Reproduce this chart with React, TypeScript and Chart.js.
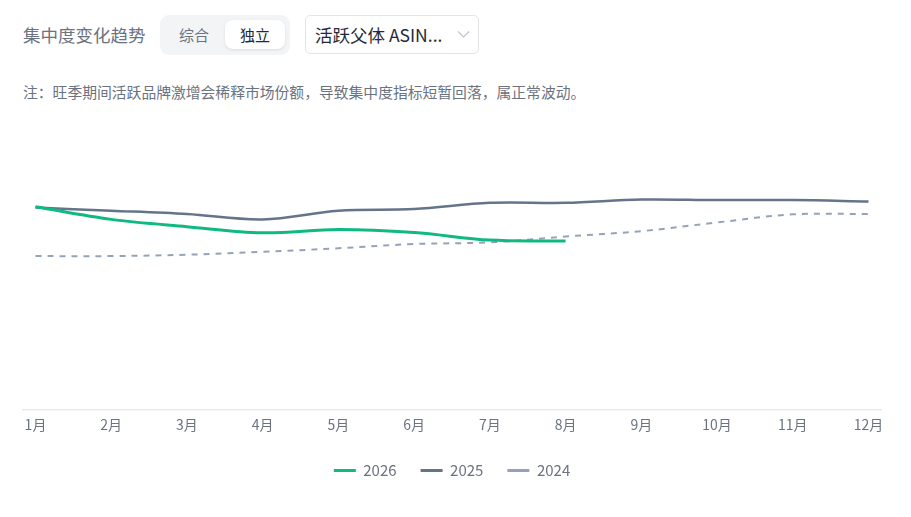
import React, { useEffect, useRef } from "react";
import { Chart, registerables } from "chart.js";

Chart.register(...registerables);

const months = ["1月", "2月", "3月", "4月", "5月", "6月", "7月", "8月", "9月", "10月", "11月", "12月"];
const series2026 = [72.6, 68.1, 65.5, 63.3, 64.5, 63.4, 60.7, 60.4];
const series2025 = [72.3, 71.2, 70.0, 68.1, 71.2, 71.8, 74.0, 74.0, 75.2, 75.0, 75.0, 74.5];
const series2024 = [55.0, 55.0, 55.5, 56.5, 57.8, 59.3, 59.9, 62.0, 63.9, 67.0, 69.9, 70.0];
const seriesNames = ["2026", "2025", "2024"];
const seriesColors = ["#10b981", "#64748b", "#94a3b8"];

const FONT = '"Noto Sans CJK SC", "Noto Sans", sans-serif';

export default function App() {
  const canvasRef = useRef<HTMLCanvasElement | null>(null);

  useEffect(() => {
    if (!canvasRef.current) return;
    const toXY = (arr: number[]) => arr.map((v, i) => ({ x: i, y: v }));
    const chart = new Chart(canvasRef.current, {
      type: "line",
      data: {
        datasets: [
          {
            label: seriesNames[0],
            data: toXY(series2026),
            borderColor: seriesColors[0],
            backgroundColor: seriesColors[0],
            borderWidth: 3,
            pointRadius: 0,
            tension: 0.35,
          },
          {
            label: seriesNames[1],
            data: toXY(series2025),
            borderColor: seriesColors[1],
            backgroundColor: seriesColors[1],
            borderWidth: 2.5,
            pointRadius: 0,
            tension: 0.35,
          },
          {
            label: seriesNames[2],
            data: toXY(series2024),
            borderColor: seriesColors[2],
            backgroundColor: seriesColors[2],
            borderWidth: 2,
            borderDash: [6, 6],
            pointRadius: 0,
            tension: 0.35,
          },
        ],
      },
      options: {
        animation: false,
        responsive: true,
        maintainAspectRatio: false,
        layout: { padding: { left: 23, right: 30, top: 20, bottom: 0 } },
        plugins: {
          tooltip: { enabled: false },
          legend: {
            position: "bottom",
            labels: {
              boxWidth: 22,
              boxHeight: 3,
              padding: 24,
              color: "#6b7280",
              font: { family: FONT, size: 15 },
              generateLabels: (c: any) =>
                c.data.datasets.map((d: any, i: number) => ({
                  text: d.label,
                  fillStyle: d.borderColor,
                  strokeStyle: d.borderColor,
                  lineWidth: 0,
                  lineDash: [],
                  hidden: false,
                  datasetIndex: i,
                  fontColor: "#6b7280",
                })),
            },
          },
        },
        scales: {
          x: {
            type: "linear",
            min: -0.165,
            max: 11.165,
            afterBuildTicks: (scale: any) => {
              scale.ticks = months.map((_, i) => ({ value: i }));
            },
            ticks: {
              callback: (v: any) => months[v as number],
              color: "#6b7280",
              font: { family: FONT, size: 14 },
              padding: 6,
              autoSkip: false,
              maxRotation: 0,
            },
            grid: { display: false, drawTicks: false },
            border: { display: true, color: "#e8eaee", width: 1.5 },
          },
          y: {
            display: false,
            min: 0,
            max: 100,
          },
        },
      },
    });
    return () => chart.destroy();
  }, []);

  return (
    <div
      style={{
        position: "absolute",
        left: 0,
        top: 0,
        width: 911,
        height: 517,
        background: "#ffffff",
        fontFamily: FONT,
        overflow: "hidden",
      }}
    >
      <div
        style={{
          position: "absolute",
          left: 23,
          top: 22,
          fontSize: 17.5,
          lineHeight: "26px",
          color: "#6b7280",
          whiteSpace: "nowrap",
        }}
      >
        集中度变化趋势
      </div>
      <div
        style={{
          position: "absolute",
          left: 160,
          top: 15,
          width: 130,
          height: 40,
          background: "#f3f4f6",
          borderRadius: 9,
        }}
      >
        <div
          style={{
            position: "absolute",
            left: 0,
            top: 0,
            width: 68,
            height: 40,
            lineHeight: "40px",
            textAlign: "center",
            fontSize: 15,
            color: "#6b7280",
          }}
        >
          综合
        </div>
        <div
          style={{
            position: "absolute",
            left: 65,
            top: 5,
            width: 60,
            height: 29,
            lineHeight: "29px",
            textAlign: "center",
            fontSize: 15,
            color: "#1f2937",
            background: "#ffffff",
            borderRadius: 8,
            boxShadow: "0 1px 3px rgba(0,0,0,0.10)",
          }}
        >
          独立
        </div>
      </div>
      <div
        style={{
          position: "absolute",
          left: 305,
          top: 15,
          width: 172,
          height: 37,
          border: "1px solid #e2e4e8",
          borderRadius: 5,
        }}
      >
        <div
          style={{
            position: "absolute",
            left: 9,
            top: 0,
            lineHeight: "38px",
            fontSize: 17.5,
            color: "#1f2937",
            whiteSpace: "nowrap",
          }}
        >
          活跃父体 ASIN...
        </div>
        <svg
          style={{ position: "absolute", left: 151, top: 14 }}
          width="13"
          height="9"
          viewBox="0 0 13 9"
        >
          <polyline points="1,1.5 6.5,7 12,1.5" fill="none" stroke="#c0c4cc" strokeWidth="1.2" />
        </svg>
      </div>
      <div
        style={{
          position: "absolute",
          left: 23,
          top: 82,
          fontSize: 14.8,
          lineHeight: "20px",
          color: "#6b7280",
          whiteSpace: "nowrap",
        }}
      >
        注：旺季期间活跃品牌激增会稀释市场份额，导致集中度指标短暂回落，属正常波动。
      </div>
      <div style={{ position: "absolute", left: 0, top: 110, width: 911, height: 378 }}>
        <canvas ref={canvasRef} />
      </div>
    </div>
  );
}
